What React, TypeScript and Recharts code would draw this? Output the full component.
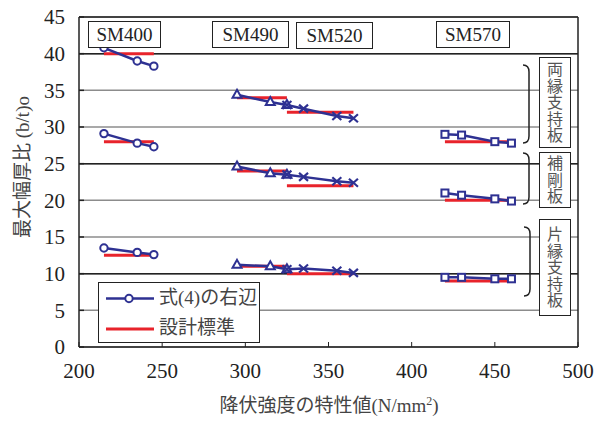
import React from "react";
import {
  CartesianGrid,
  ComposedChart,
  Line,
  ReferenceLine,
  XAxis,
  YAxis,
} from "recharts";

// yield strength (N/mm2) per steel grade / plate thickness class
const sm400X = [215, 235, 245];
const sm490X = [295, 315, 325];
const sm520X = [325, 335, 355, 365];
const sm570X = [420, 430, 450, 460];

// right-hand side of eq.(4): both-edge supported plate
const sm400Both = [40.8, 39.0, 38.3];
const sm490Both = [34.4, 33.4, 33.0];
const sm520Both = [33.0, 32.5, 31.5, 31.2];
const sm570Both = [29.0, 28.9, 28.0, 27.8];

// stiffened plate
const sm400Stiff = [29.1, 27.8, 27.3];
const sm490Stiff = [24.6, 23.7, 23.5];
const sm520Stiff = [23.5, 23.2, 22.6, 22.4];
const sm570Stiff = [21.0, 20.7, 20.2, 19.9];

// one-edge supported plate
const sm400One = [13.5, 12.9, 12.6];
const sm490One = [11.2, 11.0, 10.6];
const sm520One = [10.6, 10.7, 10.4, 10.1];
const sm570One = [9.5, 9.5, 9.3, 9.3];

// design standard values [both, stiffened, one-edge]
const sm400Design = [40, 28, 12.5];
const sm490Design = [34, 24, 11];
const sm520Design = [32, 22, 10];
const sm570Design = [28, 20, 9];

const xTicks = [200, 250, 300, 350, 400, 450, 500];
const yTicks = [0, 5, 10, 15, 20, 25, 30, 35, 40, 45];
const darkGrid = [10, 25, 40];

const BLUE = "#2e3192";
const RED = "#e8232b";
const SERIF = "'Times New Roman', 'Liberation Serif', 'DejaVu Serif', 'Noto Sans CJK JP', serif";
const CJK = "'Noto Sans CJK JP', sans-serif";

const pts = (xs: number[], ys: number[]) => xs.map((x, i) => ({ x, y: ys[i] }));
const flat = (xs: number[], v: number) => [
  { x: xs[0], y: v },
  { x: xs[xs.length - 1], y: v },
];

const CircleDot = (p: any) => (
  <circle key={p.key} cx={p.cx} cy={p.cy} r={3.7} fill="#fff" stroke={BLUE} strokeWidth={2} />
);
const TriDot = (p: any) => (
  <path
    key={p.key}
    d={`M${p.cx},${p.cy - 5} L${p.cx + 4.5},${p.cy + 3} L${p.cx - 4.5},${p.cy + 3} Z`}
    fill="#fff"
    stroke={BLUE}
    strokeWidth={2}
  />
);
const CrossDot = (p: any) => (
  <path
    key={p.key}
    d={`M${p.cx - 4.5},${p.cy - 4} L${p.cx + 4.5},${p.cy + 4} M${p.cx + 4.5},${p.cy - 4} L${p.cx - 4.5},${p.cy + 4}`}
    stroke={BLUE}
    strokeWidth={2.2}
  />
);
const SquareDot = (p: any) => (
  <rect key={p.key} x={p.cx - 3.5} y={p.cy - 3.5} width={7} height={7} fill="#fff" stroke={BLUE} strokeWidth={2} />
);

const groups = [
  { name: "sm400", xs: sm400X, bands: [sm400Both, sm400Stiff, sm400One], design: sm400Design, dot: CircleDot },
  { name: "sm490", xs: sm490X, bands: [sm490Both, sm490Stiff, sm490One], design: sm490Design, dot: TriDot },
  { name: "sm520", xs: sm520X, bands: [sm520Both, sm520Stiff, sm520One], design: sm520Design, dot: CrossDot },
  { name: "sm570", xs: sm570X, bands: [sm570Both, sm570Stiff, sm570One], design: sm570Design, dot: SquareDot },
];

const gradeBoxes = [
  { label: "SM400", left: 88, top: 21, width: 73 },
  { label: "SM490", left: 212, top: 21, width: 77 },
  { label: "SM520", left: 296, top: 22, width: 77 },
  { label: "SM570", left: 436, top: 21, width: 74 },
];

const sideBoxes = [
  { label: "両縁支持板", top: 57, height: 91 },
  { label: "補剛板", top: 152, height: 56 },
  { label: "片縁支持板", top: 219, height: 97 },
];

const brackets = [
  { x: 529, top: 65, bottom: 143 },
  { x: 529, top: 153, bottom: 204 },
  { x: 530, top: 227, bottom: 296 },
];

export default function App() {
  return (
    <div style={{ position: "absolute", left: 0, top: 0, width: 595, height: 421, background: "#fff" }}>
      <ComposedChart width={595} height={421} margin={{ top: 17, right: 17, bottom: 0, left: 0 }}>
        <CartesianGrid horizontal vertical={false} stroke="#8c8c8c" strokeWidth={1.5} />
        <XAxis
          type="number"
          dataKey="x"
          domain={[200, 500]}
          ticks={xTicks}
          height={74}
          tickSize={-5}
          tickMargin={21}
          axisLine={{ stroke: "#222", strokeWidth: 1.5 }}
          tickLine={{ stroke: "#222" }}
          tick={{ fontSize: 21, fill: "#222", fontFamily: SERIF }}
        />
        <YAxis
          type="number"
          dataKey="y"
          domain={[0, 45]}
          ticks={yTicks}
          width={79}
          tickSize={-5}
          tickMargin={19}
          axisLine={{ stroke: "#222", strokeWidth: 1.5 }}
          tickLine={{ stroke: "#222", strokeWidth: 1.5 }}
          tick={{ fontSize: 21, fill: "#222", fontFamily: SERIF }}
        />
        {darkGrid.map((v) => (
          <ReferenceLine key={`g${v}`} y={v} stroke="#222" strokeWidth={1.5} />
        ))}
        <ReferenceLine y={45} stroke="#222" strokeWidth={1.5} />
        <ReferenceLine x={500} stroke="#222" strokeWidth={1.5} />
        {groups.map((g) =>
          g.design.map((v, i) => (
            <Line
              key={`${g.name}-d${i}`}
              data={flat(g.xs, v)}
              dataKey="y"
              stroke={RED}
              strokeWidth={3}
              dot={false}
              isAnimationActive={false}
            />
          ))
        )}
        {groups.map((g) =>
          g.bands.map((ys, i) => (
            <Line
              key={`${g.name}-b${i}`}
              data={pts(g.xs, ys)}
              dataKey="y"
              stroke={BLUE}
              strokeWidth={2.5}
              dot={g.dot}
              isAnimationActive={false}
            />
          ))
        )}
      </ComposedChart>

      {gradeBoxes.map((b) => (
        <div
          key={b.label}
          style={{
            position: "absolute",
            left: b.left,
            top: b.top,
            width: b.width,
            height: 27,
            boxSizing: "border-box",
            border: "1.5px solid #222",
            background: "#fff",
            fontFamily: SERIF,
            fontSize: 19,
            lineHeight: "25px",
            textAlign: "center",
            color: "#222",
          }}
        >
          {b.label}
        </div>
      ))}

      {sideBoxes.map((b) => (
        <div
          key={b.label}
          style={{
            position: "absolute",
            left: 539,
            top: b.top,
            width: 32,
            height: b.height,
            boxSizing: "border-box",
            border: "1.5px solid #222",
            background: "#fff",
            display: "flex",
            alignItems: "center",
            justifyContent: "center",
          }}
        >
          <span
            style={{
              writingMode: "vertical-rl",
              fontFamily: CJK,
              fontSize: 16,
              lineHeight: "20px",
              letterSpacing: 0.5,
              color: "#555",
            }}
          >
            {b.label}
          </span>
        </div>
      ))}

      <svg
        width={595}
        height={421}
        style={{ position: "absolute", left: 0, top: 0, pointerEvents: "none" }}
      >
        {brackets.map((b, i) => (
          <path
            key={i}
            d={`M${b.x - 6},${b.top} Q${b.x},${b.top} ${b.x},${b.top + 7} L${b.x},${b.bottom - 7} Q${b.x},${b.bottom} ${b.x - 6},${b.bottom}`}
            fill="none"
            stroke="#222"
            strokeWidth={1.5}
          />
        ))}
      </svg>

      {/* legend */}
      <div
        style={{
          position: "absolute",
          left: 98,
          top: 282,
          width: 162,
          height: 61,
          boxSizing: "border-box",
          border: "1px solid #222",
          background: "#fff",
        }}
      >
        <svg width={60} height={60} style={{ position: "absolute", left: 0, top: 0 }}>
          <line x1={7} y1={15.5} x2={55} y2={15.5} stroke={BLUE} strokeWidth={2.5} />
          <circle cx={30} cy={15.5} r={3.7} fill="#fff" stroke={BLUE} strokeWidth={2} />
          <line x1={7} y1={46} x2={55} y2={46} stroke={RED} strokeWidth={3} />
        </svg>
        <div
          style={{
            position: "absolute",
            left: 60,
            top: 3,
            fontFamily: SERIF,
            fontSize: 19,
            lineHeight: "24px",
            color: "#444",
            whiteSpace: "nowrap",
          }}
        >
          式(4)の右辺
        </div>
        <div
          style={{
            position: "absolute",
            left: 60,
            top: 33,
            fontFamily: SERIF,
            fontSize: 19,
            lineHeight: "24px",
            color: "#444",
            whiteSpace: "nowrap",
          }}
        >
          設計標準
        </div>
      </div>

      {/* axis titles */}
      <div
        style={{
          position: "absolute",
          left: 23 - 100,
          top: 167 - 12,
          width: 200,
          height: 24,
          transform: "rotate(-90deg)",
          textAlign: "center",
          fontFamily: SERIF,
          fontSize: 19,
          lineHeight: "24px",
          color: "#444",
          whiteSpace: "nowrap",
        }}
      >
        最大幅厚比 (b/t)o
      </div>
      <div
        style={{
          position: "absolute",
          left: 329 - 150,
          top: 394,
          width: 300,
          textAlign: "center",
          fontFamily: SERIF,
          fontSize: 19,
          lineHeight: "24px",
          color: "#444",
          whiteSpace: "nowrap",
        }}
      >
        降伏強度の特性値(N/mm<sup style={{ fontSize: 12, verticalAlign: "7px", lineHeight: 0 }}>2</sup>)
      </div>
    </div>
  );
}
